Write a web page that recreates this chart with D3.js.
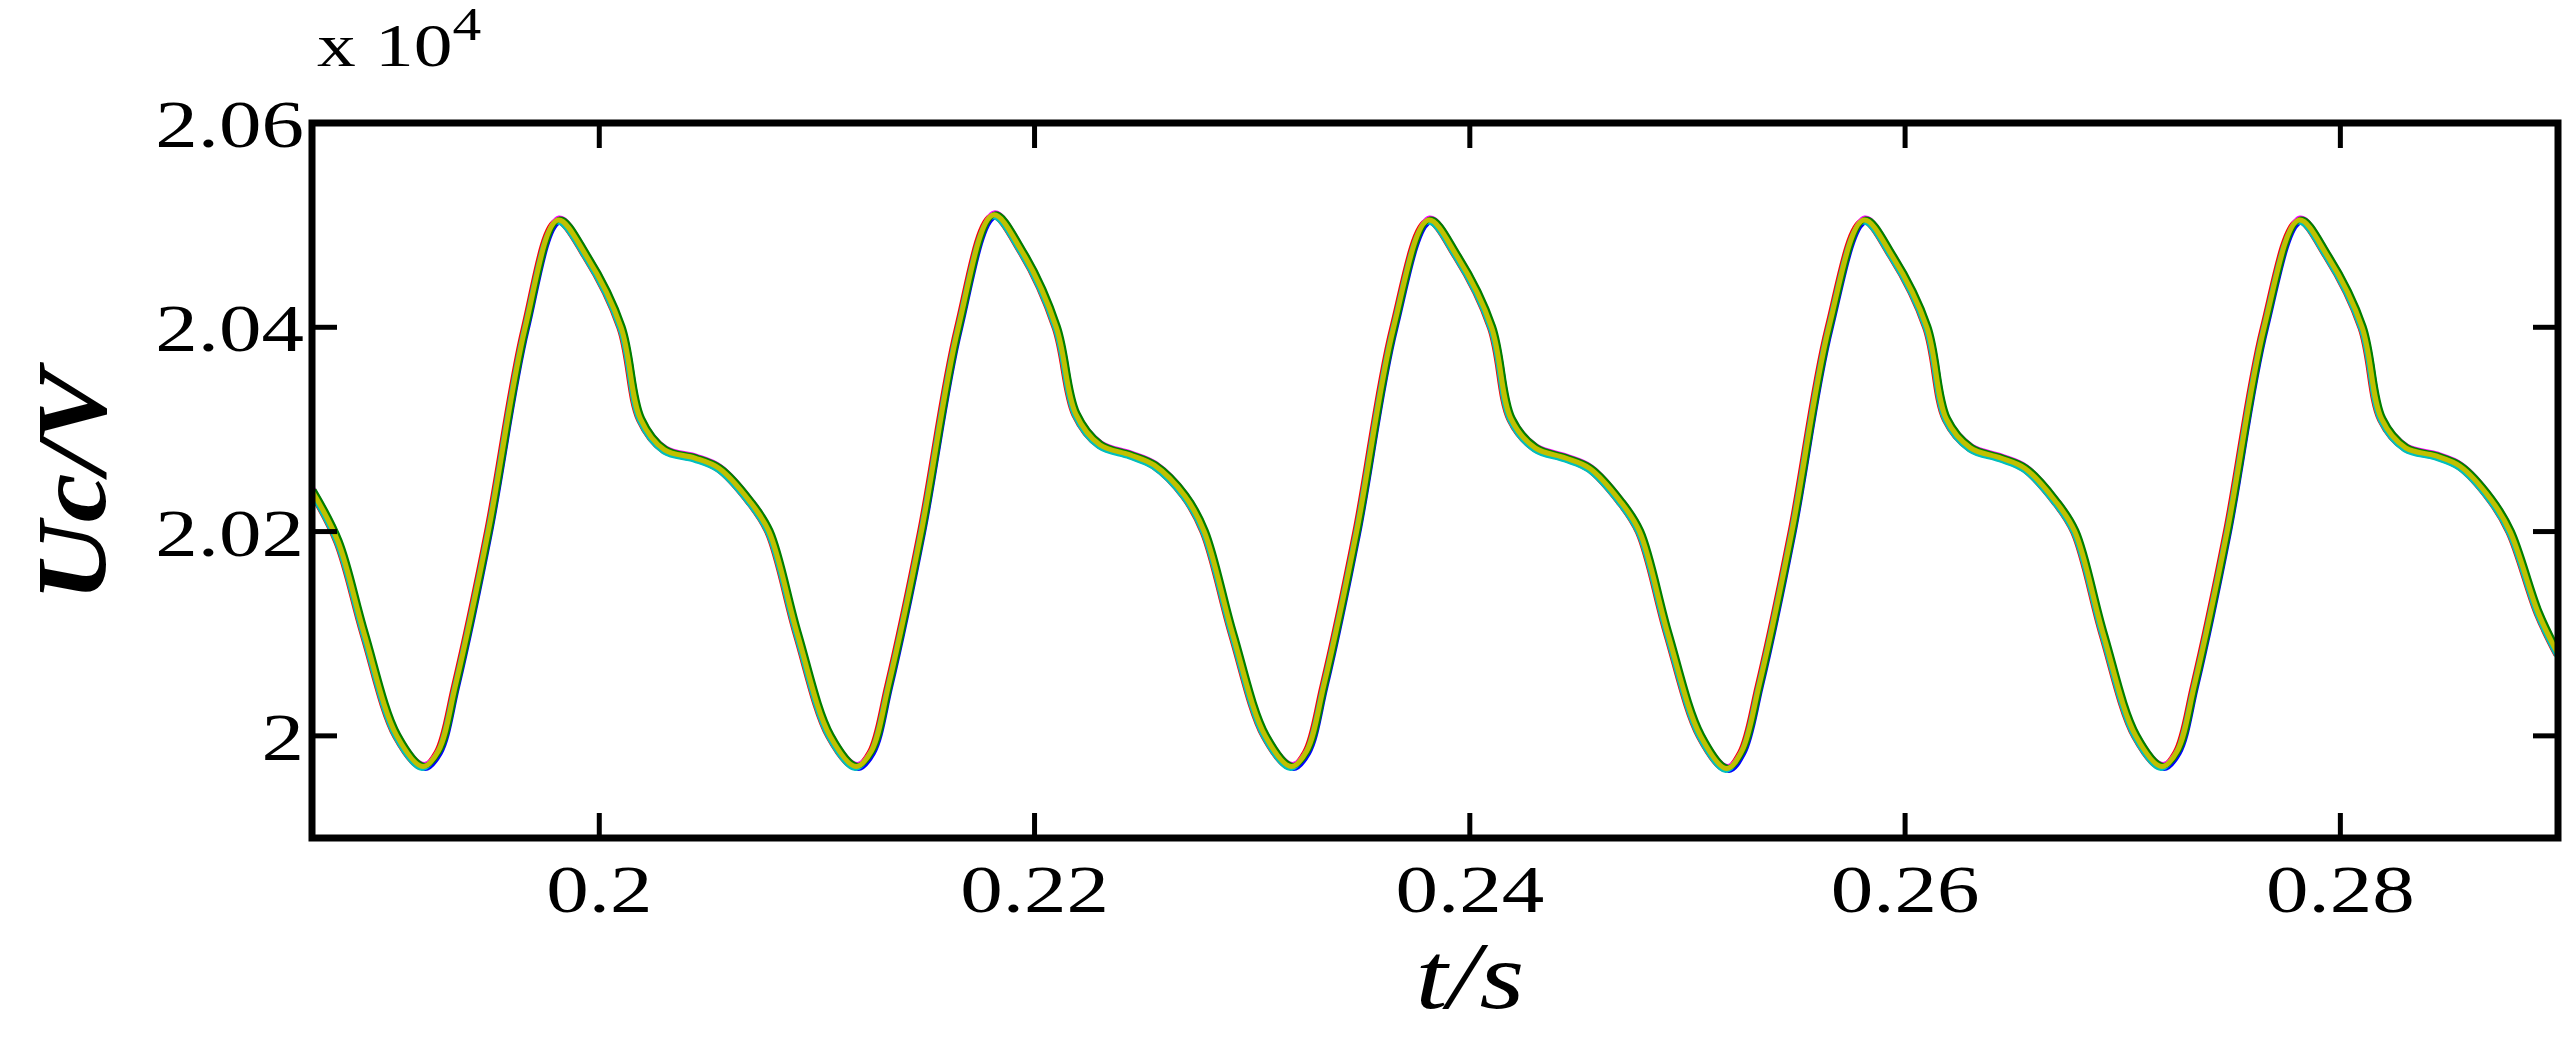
<!DOCTYPE html>
<html lang="en">
<head>
<meta charset="UTF-8">
<script src="https://d3js.org/d3.v7.min.js"></script>
<style>body{margin:0;background:#fff}</style>
</head>
<body>
<script>
// time (s) and Uc (x10^4 V)
var times = [
  0.1868, 0.1880, 0.1892, 0.1907, 0.1919, 0.1926, 0.1934, 0.1949, 0.1966, 0.1981,
  0.1994, 0.2010, 0.2019, 0.2030, 0.2044, 0.2055, 0.2069, 0.2078, 0.2091, 0.2106, 0.2118,
  0.2125, 0.2133, 0.2148, 0.2165, 0.2181,
  0.2194, 0.2210, 0.2219, 0.2230, 0.2244, 0.2255, 0.2269, 0.2278, 0.2291, 0.2306, 0.2318,
  0.2325, 0.2333, 0.2348, 0.2365, 0.2381,
  0.2394, 0.2410, 0.2419, 0.2430, 0.2444, 0.2455, 0.2469, 0.2478, 0.2491, 0.2506, 0.2518,
  0.2525, 0.2533, 0.2548, 0.2565, 0.2581,
  0.2594, 0.2610, 0.2619, 0.2630, 0.2644, 0.2655, 0.2669, 0.2678, 0.2691, 0.2706, 0.2718,
  0.2725, 0.2733, 0.2748, 0.2765, 0.2781,
  0.2794, 0.2810, 0.2819, 0.2830, 0.2844, 0.2855, 0.2869, 0.2878, 0.2891, 0.2900
];
var uc = [
  2.0240, 2.0190, 2.0100, 2.0000, 1.9970, 1.9985, 2.0050, 2.0200, 2.0400, 2.0505,
  2.0470, 2.0400, 2.0310, 2.0280, 2.0272, 2.0262, 2.0230, 2.0200, 2.0100, 2.0000, 1.9970,
  1.9985, 2.0050, 2.0200, 2.0400, 2.0510,
  2.0475, 2.0400, 2.0315, 2.0285, 2.0275, 2.0265, 2.0235, 2.0200, 2.0100, 2.0000, 1.9970,
  1.9985, 2.0050, 2.0200, 2.0400, 2.0505,
  2.0470, 2.0400, 2.0310, 2.0282, 2.0272, 2.0262, 2.0230, 2.0200, 2.0100, 2.0000, 1.9968,
  1.9985, 2.0050, 2.0200, 2.0400, 2.0505,
  2.0470, 2.0400, 2.0310, 2.0282, 2.0272, 2.0262, 2.0230, 2.0200, 2.0100, 2.0000, 1.9970,
  1.9985, 2.0050, 2.0200, 2.0400, 2.0505,
  2.0470, 2.0400, 2.0310, 2.0282, 2.0274, 2.0264, 2.0232, 2.0200, 2.0120, 2.0080
];
var xTicks = [0.2, 0.22, 0.24, 0.26, 0.28];
var yTicks = [2, 2.02, 2.04, 2.06];
var traceColors = ["#0000ff", "#ff0000", "#ff00ff", "#00bfbf", "#008000", "#c0c000"];

var W = 2576, H = 1045;
var L = 312, R = 2558, T = 123, B = 838;
var font = "'Liberation Serif', 'Times New Roman', serif";

var svg = d3.select("body").append("svg").attr("width", W).attr("height", H);

var x = d3.scaleLinear().domain([0.1868, 0.29]).range([L, R]);
var y = d3.scaleLinear().domain([1.99, 2.06]).range([B, T]);

var data = times.map(function(t, i) { return [t, uc[i]]; });
var line = d3.line()
  .x(function(d) { return x(d[0]); })
  .y(function(d) { return y(d[1]); })
  .curve(d3.curveCatmullRom.alpha(0.5));

svg.append("clipPath").attr("id", "clip").append("rect")
  .attr("x", L).attr("y", T).attr("width", R - L).attr("height", B - T);

var g = svg.append("g").attr("clip-path", "url(#clip)");
var shifts = [[2, 2], [-2, 1], [1, -2], [-1, 2], [2, -1], [0, 0]];
traceColors.forEach(function(c, i) {
  g.append("path").datum(data)
    .attr("d", line)
    .attr("fill", "none")
    .attr("stroke", c)
    .attr("stroke-width", 5)
    .attr("transform", "translate(" + shifts[i][0] + "," + shifts[i][1] + ")");
});

// ticks inward on all four sides
var tl = 25;
xTicks.forEach(function(v) {
  svg.append("line").attr("x1", x(v)).attr("x2", x(v)).attr("y1", B).attr("y2", B - tl)
    .attr("stroke", "#000").attr("stroke-width", 5);
  svg.append("line").attr("x1", x(v)).attr("x2", x(v)).attr("y1", T).attr("y2", T + tl)
    .attr("stroke", "#000").attr("stroke-width", 5);
  svg.append("text").attr("transform", "translate(" + x(v) + ",912) scale(1.25,1)")
    .attr("text-anchor", "middle").attr("font-family", font).attr("font-size", 68)
    .text(String(v));
});
yTicks.forEach(function(v) {
  svg.append("line").attr("x1", L).attr("x2", L + tl).attr("y1", y(v)).attr("y2", y(v))
    .attr("stroke", "#000").attr("stroke-width", 5);
  svg.append("line").attr("x1", R).attr("x2", R - tl).attr("y1", y(v)).attr("y2", y(v))
    .attr("stroke", "#000").attr("stroke-width", 5);
  svg.append("text").attr("transform", "translate(304," + (y(v) + 24) + ") scale(1.25,1)")
    .attr("text-anchor", "end").attr("font-family", font).attr("font-size", 68)
    .text(v === 2 ? "2" : v.toFixed(2));
});

svg.append("rect").attr("x", L).attr("y", T).attr("width", R - L).attr("height", B - T)
  .attr("fill", "none").attr("stroke", "#000").attr("stroke-width", 7);

// exponent label
var ex = svg.append("text").attr("transform", "translate(317,66) scale(1.25,1)")
  .attr("font-family", font).attr("font-size", 62);
ex.append("tspan").text("x 10");
ex.append("tspan").attr("dy", -26).attr("font-size", 46).text("4");

// axis titles
svg.append("text").attr("transform", "translate(" + ((L + R) / 2 + 35) + ",1008) scale(1.2,1)")
  .attr("text-anchor", "middle").attr("font-family", font).attr("font-style", "italic")
  .attr("font-size", 96).text("t/s");
svg.append("text").attr("transform", "translate(105," + ((T + B) / 2 + 5) + ") rotate(-90) scale(1.1,1)")
  .attr("text-anchor", "middle").attr("font-family", font).attr("font-style", "italic")
  .attr("font-weight", "bold").attr("font-size", 100).text("Uc/V");
</script>
</body>
</html>
